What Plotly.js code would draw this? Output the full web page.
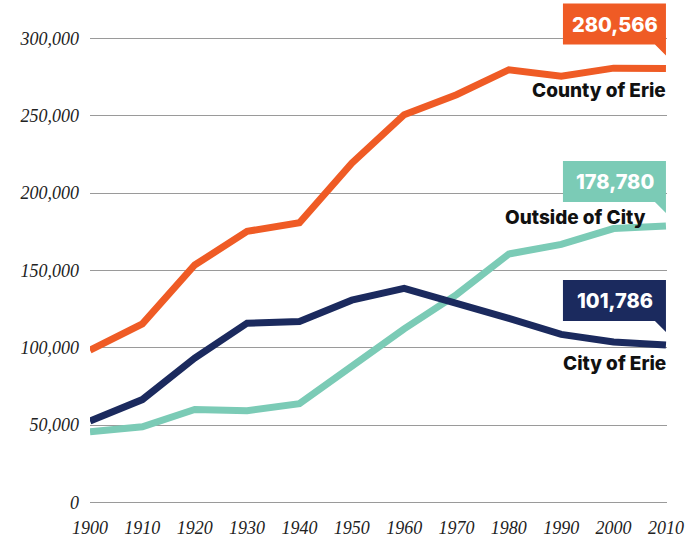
<!DOCTYPE html>
<html><head><meta charset="utf-8">
<script src="https://cdn.plot.ly/plotly-3.0.1.min.js"></script>
<style>html,body{margin:0;padding:0;background:#fff}#chart{width:688px;height:537px}</style>
</head><body><div id="chart"></div>
<script>
const years = [1900,1910,1920,1930,1940,1950,1960,1970,1980,1990,2000,2010];
const countyOfErie = [98473,115517,153536,175277,180889,219388,250682,263654,279780,275572,280843,280566];
const cityOfErie = [52733,66525,93372,115967,116955,130803,138440,129231,119123,108718,103717,101786];
const outsideOfCity = [45740,48992,60164,59310,63934,88585,112242,134423,160657,166854,177126,178780];
const yTickVals = [0,50000,100000,150000,200000,250000,300000];
const yTickText = ['0','50,000','100,000','150,000','200,000','250,000','300,000'];
const xTickVals = years;
const xTickText = years.map(String);

const series = [
  {name:'County of Erie', values: countyOfErie, color:'#EF5B25', boxText:'280,566', label:'County of Erie', labShiftX:2, labShiftY:-22},
  {name:'Outside of City', values: outsideOfCity, color:'#7BCBB6', boxText:'178,780', label:'Outside of City', labShiftX:-18, labShiftY:8},
  {name:'City of Erie', values: cityOfErie, color:'#1B2A5E', boxText:'101,786', label:'City of Erie', labShiftX:2, labShiftY:-18}
];

const traces = series.map(s => ({
  x: years, y: s.values, type:'scatter', mode:'lines', name:s.name,
  line:{color:s.color, width:7}, cliponaxis:false, hoverinfo:'skip'
}));

const last = years.length - 1;
const shapes = series.map(s => ({
  type:'path', xref:'x', yref:'y', xsizemode:'pixel', ysizemode:'pixel',
  xanchor: years[last], yanchor: s.values[last],
  path:'M -103,65 L 0,65 L 0,13 L -11,24 L -103,24 Z',
  fillcolor:s.color, line:{width:0}, layer:'above'
}));

const annotations = [];
series.forEach(s => {
  annotations.push({
    x: years[last], y: s.values[last], xref:'x', yref:'y', showarrow:false,
    text: s.boxText, xanchor:'center', yanchor:'middle', xshift:-51, yshift:44,
    font:{family:'Inter, sans-serif', size:20, color:'#ffffff', weight:800}
  });
  annotations.push({
    x: years[last], y: s.values[last], xref:'x', yref:'y', showarrow:false,
    text: s.label, xanchor:'right', yanchor:'middle', xshift:s.labShiftX, yshift:s.labShiftY,
    font:{family:'Inter, sans-serif', size:19, color:'#111111', weight:800}
  });
});

const layout = {
  width:688, height:537,
  margin:{l:90, r:21, t:0, b:25},
  paper_bgcolor:'#fff', plot_bgcolor:'#fff',
  showlegend:false,
  xaxis:{range:[1900,2010.2], tickvals:xTickVals, ticktext:xTickText, showgrid:false, zeroline:false,
    showline:false, ticks:'', ticklabelstandoff:3,
    tickfont:{family:'Liberation Serif, serif', size:18, color:'#222', style:'italic'}},
  yaxis:{range:[-6142,324892], tickvals:yTickVals, ticktext:yTickText, showgrid:true, gridcolor:'#9a9a9a', gridwidth:1,
    zeroline:false, showline:false, ticks:'', ticklabelstandoff:10,
    tickfont:{family:'Liberation Serif, serif', size:18, color:'#222', style:'italic'}},
  shapes: shapes, annotations: annotations
};
Plotly.newPlot('chart', traces, layout, {staticPlot:true});
</script></body></html>
